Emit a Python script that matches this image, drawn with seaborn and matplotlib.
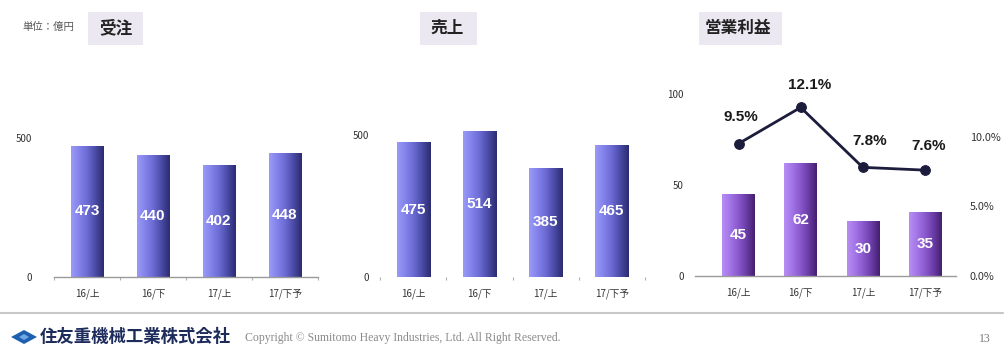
import numpy as np
import pandas as pd
import matplotlib
matplotlib.use("Agg")
import matplotlib.pyplot as plt
import seaborn as sns
from matplotlib.colors import LinearSegmentedColormap
from matplotlib.patches import Polygon, FancyBboxPatch
from matplotlib.lines import Line2D

# ---- data (億円) ----
periods = ["16/上", "16/下", "17/上", "17/下予"]
orders = [473, 440, 402, 448]          # 受注
sales = [475, 514, 385, 465]           # 売上
op_profit = [45, 62, 30, 35]           # 営業利益
op_margin = [9.5, 12.1, 7.8, 7.6]      # 営業利益率 (%)

sns.set_theme(style="white")
plt.rcParams["font.family"] = ["Noto Sans CJK JP", "DejaVu Sans"]

W, H = 1005, 349
fig = plt.figure(figsize=(W / 100, H / 100), dpi=100)
fig.patch.set_facecolor("white")


def rect(x0, y_top, x1, y_bot):
    return [x0 / W, 1 - y_bot / H, (x1 - x0) / W, (y_bot - y_top) / H]


blue_cmap = LinearSegmentedColormap.from_list(
    "bluebar", ["#9a9af8", "#8282ea", "#6a6ad2", "#4a4aa6", "#2c2c70"])
purple_cmap = LinearSegmentedColormap.from_list(
    "purplebar", ["#b88ef4", "#a274e6", "#8a58cc", "#6a3ca6", "#44206e"])


def gradient_bars(ax, cmap):
    grad = np.linspace(0, 1, 64).reshape(1, -1)
    for p in list(ax.patches):
        x0, y0 = p.get_x(), p.get_y()
        w, h = p.get_width(), p.get_height()
        im = ax.imshow(grad, cmap=cmap, extent=(x0, x0 + w, y0, y0 + h),
                       aspect="auto", zorder=p.get_zorder() + 0.1,
                       interpolation="bicubic")
        im.set_clip_path(p)
        p.set_facecolor("none")
        p.set_edgecolor("none")


def bar_panel(rect_px, values, ymax, yticks, cmap, spine=True):
    ax = fig.add_axes(rect(*rect_px))
    df = pd.DataFrame({"period": periods, "value": values})
    sns.barplot(data=df, x="period", y="value", ax=ax, width=0.5,
                color="#6a6ad2", saturation=1)
    gradient_bars(ax, cmap)
    ax.set_xlim(-0.5, 3.5)
    ax.set_ylim(0, ymax)
    ax.set_xlabel("")
    ax.set_ylabel("")
    for s in ["top", "right", "left"]:
        ax.spines[s].set_visible(False)
    ax.spines["bottom"].set_visible(spine)
    ax.spines["bottom"].set_color("#9a9a9a")
    ax.spines["bottom"].set_linewidth(1.0)
    ax.set_yticks(yticks)
    ax.set_yticklabels([str(t) for t in yticks])
    ax.tick_params(axis="y", length=0, labelsize=7, labelcolor="#333333", pad=16)
    ax.tick_params(axis="x", which="major", length=0, labelsize=7,
                   labelcolor="#333333", pad=8)
    ax.set_xticks([-0.5, 0.5, 1.5, 2.5, 3.5], minor=True)
    ax.tick_params(axis="x", which="minor", bottom=True, length=2.5,
                   color="#b0b0b0", width=0.8, direction="out")
    for i, v in enumerate(values):
        ax.text(i, v / 2, str(v), ha="center", va="center", color="white",
                fontsize=11, fontweight="bold", family="Liberation Sans")
    ax.patch.set_alpha(0)
    return ax


# 受注
bar_panel((54, 120, 318, 277), orders, 565, [0, 500], blue_cmap, spine=True)
# 売上
ax2 = bar_panel((380, 120, 645, 277), sales, 553, [0, 500], blue_cmap, spine=False)
ax2.tick_params(axis="y", pad=8)

# 営業利益 + 利益率
ax3 = fig.add_axes(rect(695, 80, 956, 276))
df3 = pd.DataFrame({"period": periods, "value": op_profit})
sns.barplot(data=df3, x="period", y="value", ax=ax3, width=0.52,
            color="#8a58cc", saturation=1)
gradient_bars(ax3, purple_cmap)
ax3.set_xlim(-0.7, 3.5)
ax3.set_ylim(0, 107.7)
ax3.set_xlabel("")
ax3.set_ylabel("")
for s in ["top", "right", "left"]:
    ax3.spines[s].set_visible(False)
ax3.spines["bottom"].set_color("#9a9a9a")
ax3.spines["bottom"].set_linewidth(1.0)
ax3.set_yticks([0, 50, 100])
ax3.tick_params(axis="y", length=0, labelsize=7, labelcolor="#333333", pad=8)
ax3.tick_params(axis="x", length=0, labelsize=7, labelcolor="#333333", pad=8)
for i, v in enumerate(op_profit):
    ax3.text(i, v / 2, str(v), ha="center", va="center", color="white",
             fontsize=11, fontweight="bold", family="Liberation Sans")

ax3r = ax3.twinx()
sns.lineplot(x=np.arange(len(periods)), y=op_margin, ax=ax3r, color="#1c1c3c",
             lw=2, marker="o", markersize=7, markeredgecolor="#1c1c3c")
ax3r.set_ylim(0, 14.07)
ax3r.set_xlim(-0.7, 3.5)
ax3r.set_yticks([0, 5, 10])
ax3r.set_yticklabels(["0.0%", "5.0%", "10.0%"])
ax3r.tick_params(axis="y", length=0, labelsize=7.8, labelcolor="#333333", pad=10)
for s in ax3r.spines.values():
    s.set_visible(False)
ax3r.set_ylabel("")
offsets = [(2, 27), (9, 22), (7, 26), (4, 24)]
for i, (m, off) in enumerate(zip(op_margin, offsets)):
    ax3r.annotate(f"{m:.1f}%", (i, m), xytext=off, textcoords="offset pixels",
                  ha="center", va="center", fontsize=11, fontweight="bold",
                  color="#1a1a1a", family="Liberation Sans")

# panel titles on light boxes
for (bx0, bx1, label, cx) in [(88, 143, "受注", 116), (420, 477, "売上", 447),
                              (699, 782, "営業利益", 738)]:
    fig.patches.append(FancyBboxPatch((bx0 / W, 1 - 45 / H), (bx1 - bx0) / W, 33 / H,
                                      boxstyle="square,pad=0", transform=fig.transFigure,
                                      facecolor="#ebe8f1", edgecolor="none"))
    fig.text(cx / W, 1 - 28 / H, label, ha="center", va="center", fontsize=12,
             fontweight="bold", color="#222222")
fig.text(22 / W, 1 - 27 / H, "単位：億円", ha="left", va="center", fontsize=7.5,
         color="#555555")

# footer
fig.add_artist(Line2D([0, 1003 / W], [1 - 313 / H, 1 - 313 / H],
                      transform=fig.transFigure, color="#c8c8c8", lw=1.5))
cx, cy = 24, 337
diamond = Polygon([((cx - 13) / W, 1 - cy / H), (cx / W, 1 - (cy - 7) / H),
                   ((cx + 13) / W, 1 - cy / H), (cx / W, 1 - (cy + 7) / H)],
                  closed=True, transform=fig.transFigure, facecolor="#1f5fb0",
                  edgecolor="none")
inner = Polygon([((cx - 5) / W, 1 - cy / H), (cx / W, 1 - (cy - 3) / H),
                 ((cx + 5) / W, 1 - cy / H), (cx / W, 1 - (cy + 3) / H)],
                closed=True, transform=fig.transFigure, facecolor="#6fa8e6",
                edgecolor="none")
fig.patches.extend([diamond, inner])
fig.text(40 / W, 1 - 337 / H, "住友重機械工業株式会社", ha="left", va="center",
         fontsize=12.5, fontweight="bold", color="#1e2c5c")
fig.text(245 / W, 1 - 338 / H,
         "Copyright © Sumitomo Heavy Industries, Ltd. All Right Reserved.",
         ha="left", va="center", fontsize=8.5, color="#8a8a8a",
         family="Liberation Serif")
fig.text(985 / W, 1 - 339 / H, "13", ha="center", va="center", fontsize=8.5,
         color="#777777", family="Liberation Serif")

fig.savefig("out.png", dpi=100, facecolor="white")
